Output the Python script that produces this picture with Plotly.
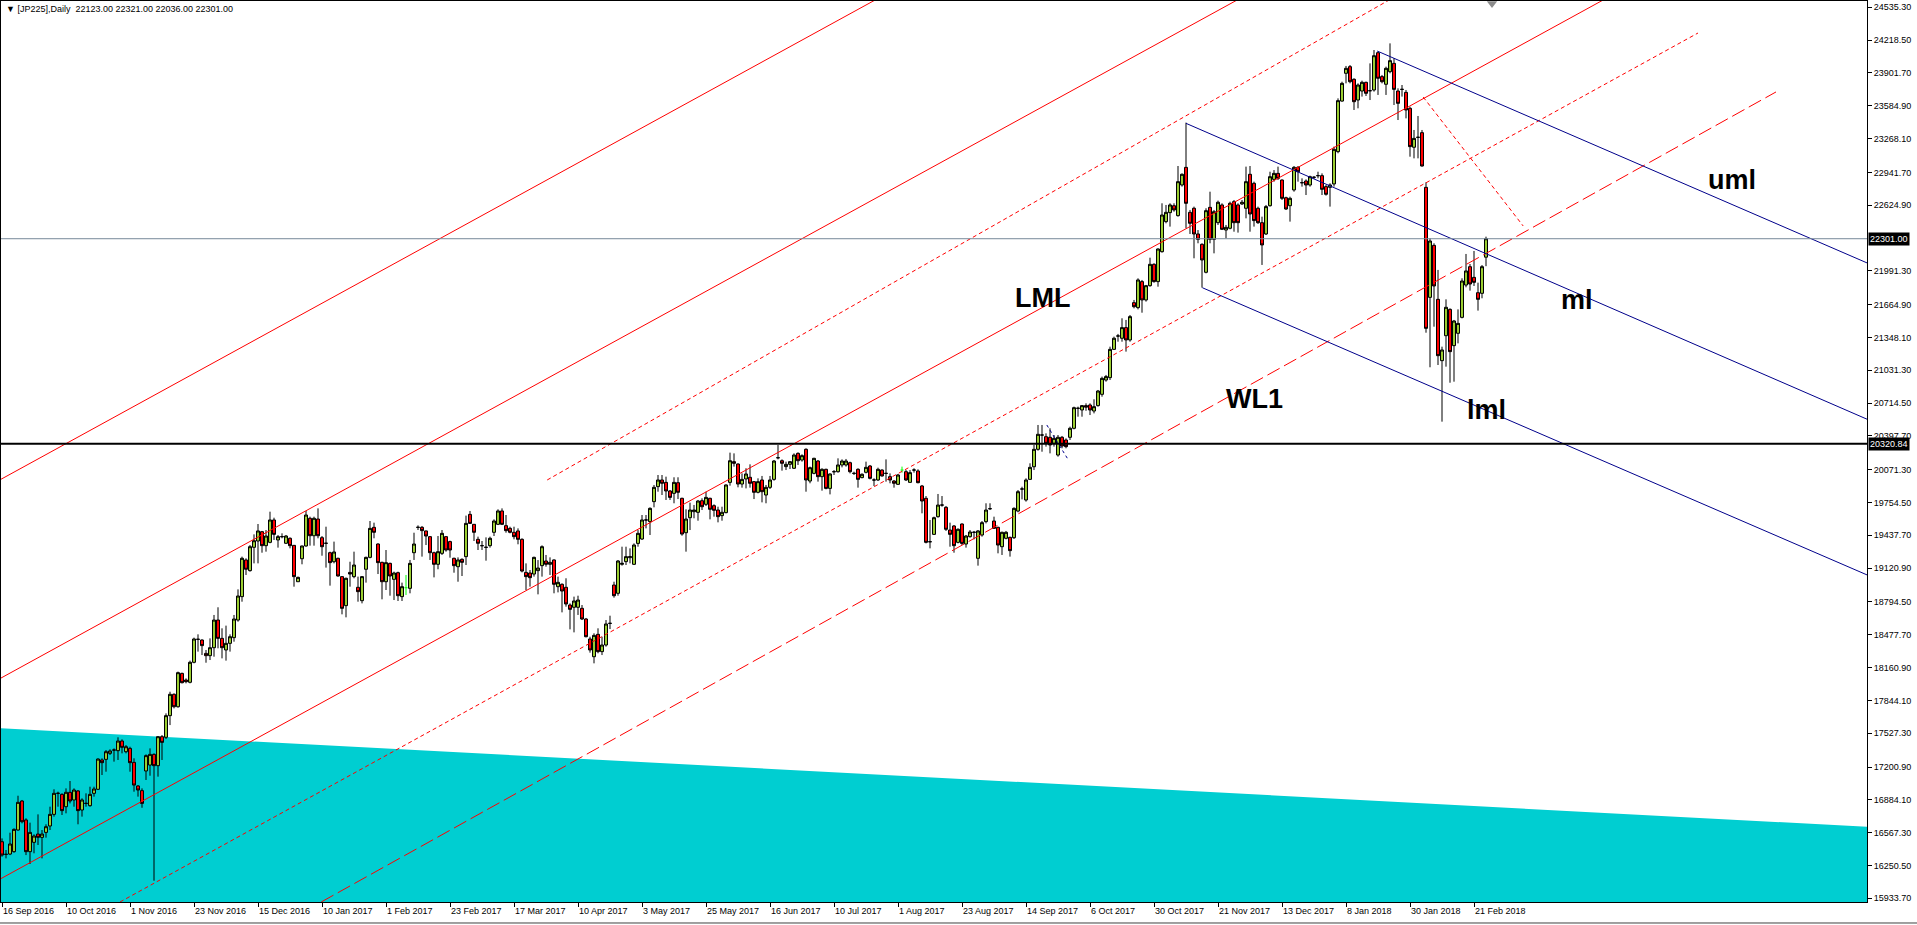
import plotly.graph_objects as go

# JP225 daily bars, 16 Sep 2016 .. 26 Feb 2018 (bar 0 = 16 Sep 2016)
opens = [
    16480, 16358, 16361, 16384, 16593, 16873, 16690, 16384, 16474, 16554,
    16522, 16570, 16632, 16744, 16947, 16937, 16818, 16957, 16883, 16970,
    16786, 16850, 16828, 16947, 16986, 17269, 17275, 17333, 17365, 17359,
    17452, 17349, 17381, 17246, 17018, 16973, 17163, 17220, 17323, 17214,
    17494, 17488, 17697, 17903, 17783, 18105, 18041, 18019, 18212, 18434,
    18427, 18298, 18276, 18353, 18620, 18443, 18331, 18395, 18450, 18620,
    18846, 19200, 19097, 19322, 19383, 19473, 19338, 19370, 19586, 19393,
    19425, 19361, 19409, 19341, 18990, 19212, 19335, 19602, 19434, 19595,
    19415, 19361, 19270, 19183, 19216, 19039, 18759, 19080, 19039, 18936,
    18807, 19110, 19225, 19515, 19354, 19177, 18990, 19167, 19013, 19077,
    18846, 18932, 18926, 19270, 19515, 19515, 19480, 19425, 19270, 19158,
    19264, 19425, 19377, 19216, 19135, 19206, 19232, 19640, 19544, 19399,
    19338, 19322, 19338, 19467, 19544, 19673, 19531, 19505, 19467, 19480,
    19399, 19080, 19074, 19064, 19097, 19145, 19190, 19158, 19200, 18942,
    18965, 18936, 18765, 18743, 18743, 18733, 18630, 18437, 18266, 18482,
    18315, 18379, 18588, 18958, 18878, 19158, 19184, 19222, 19158, 19360,
    19402, 19586, 19570, 19763, 19908, 19972, 19949, 19866, 19843, 19946,
    19795, 19463, 19608, 19666, 19660, 19772, 19737, 19795, 19724, 19682,
    19628, 19657, 19949, 20149, 20126, 19933, 19982, 19998, 19956, 19853,
    19972, 19827, 19901, 19978, 20187, 20158, 20101, 20123, 20085, 20229,
    20165, 20268, 19962, 20036, 20155, 20004, 20075, 19891, 20052, 20052,
    20117, 20117, 20139, 20036, 20075, 19995, 20046, 20107, 19972, 19972,
    20068, 20036, 20004, 19962, 19930, 20068, 20052, 19949, 20068, 20059,
    19914, 19795, 19376, 19447, 19618, 19730, 19708, 19489, 19528, 19370,
    19547, 19354, 19425, 19467, 19216, 19441, 19570, 19695, 19576, 19515,
    19328, 19409, 19418, 19415, 19672, 19885, 19779, 19978, 20100, 20268,
    20406, 20390, 20384, 20326, 20213, 20384, 20358, 20384, 20471, 20664,
    20648, 20690, 20696, 20638, 20690, 20799, 20937, 20960, 21233, 21362,
    21340, 21443, 21324, 21684, 21636, 21887, 21710, 21848, 22054, 21887,
    22176, 22466, 22553, 22620, 22524, 22820, 22990, 22556, 22595, 22347,
    22247, 21977, 22604, 22295, 22456, 22627, 22385, 22402, 22659, 22627,
    22637, 22595, 22923, 22836, 22595, 22456, 22347, 22620, 22874, 22932,
    22868, 22697, 22620, 22772, 22990, 22842, 22858, 22820, 22894, 22910,
    22910, 22804, 22797, 22830, 23142, 23630, 23898, 23962, 23840, 23640,
    23727, 23811, 23730, 23737, 24097, 23866, 23792, 23914, 23994, 23727,
    23743, 23714, 23560, 23184, 23280, 23325, 22797, 21735, 22237, 21716,
    21124, 21365, 21619, 21269, 21388, 21542, 21854, 22031, 21928, 21780,
    21774, 22123,
]
highs = [
    16512, 16400, 16567, 16609, 16924, 16883, 16706, 16664, 16551, 16744,
    16593, 16648, 16818, 16986, 16963, 16947, 16995, 17066, 16995, 16979,
    16899, 16947, 17011, 17011, 17285, 17285, 17365, 17372, 17381, 17488,
    17468, 17413, 17397, 17285, 17027, 16995, 17323, 17381, 17333, 17500,
    17510, 17719, 17928, 17912, 18122, 18112, 18057, 18228, 18450, 18482,
    18434, 18331, 18443, 18669, 18743, 18540, 18566, 18482, 18669, 18916,
    19232, 19216, 19344, 19447, 19547, 19480, 19489, 19666, 19608, 19441,
    19457, 19441, 19418, 19344, 19039, 19338, 19673, 19618, 19618, 19698,
    19431, 19521, 19280, 19377, 19222, 19045, 19029, 19183, 19280, 19039,
    19045, 19232, 19576, 19560, 19361, 19183, 19296, 19174, 19087, 19087,
    18981, 19055, 19200, 19463, 19534, 19528, 19483, 19431, 19280, 19431,
    19489, 19431, 19386, 19222, 19225, 19216, 19628, 19673, 19547, 19425,
    19383, 19418, 19425, 19592, 19689, 19698, 19634, 19521, 19521, 19505,
    19409, 19167, 19103, 19232, 19199, 19341, 19248, 19225, 19206, 19039,
    18974, 19023, 18781, 18846, 18855, 18765, 18640, 18459, 18492, 18540,
    18459, 18620, 18662, 18990, 19199, 19328, 19328, 19312, 19360, 19489,
    19634, 19634, 19708, 19924, 20020, 20020, 20004, 19875, 19998, 19998,
    19801, 19689, 19753, 19731, 19779, 19795, 19859, 19801, 19737, 19714,
    19714, 19930, 20236, 20229, 20133, 20036, 20085, 20123, 19962, 19988,
    20011, 19924, 20011, 20165, 20310, 20171, 20149, 20155, 20229, 20239,
    20220, 20278, 20101, 20187, 20165, 20085, 20081, 20036, 20068, 20181,
    20171, 20175, 20149, 20052, 20085, 20036, 20149, 20117, 19988, 20091,
    20075, 20171, 20036, 19972, 20030, 20101, 20068, 20068, 20085, 20075,
    19924, 19817, 19586, 19618, 19837, 19817, 19721, 19560, 19537, 19505,
    19553, 19441, 19489, 19480, 19489, 19576, 19747, 19747, 19618, 19521,
    19473, 19480, 19425, 19708, 19875, 19907, 19988, 20133, 20310, 20503,
    20503, 20422, 20471, 20406, 20406, 20397, 20374, 20487, 20680, 20680,
    20696, 20712, 20712, 20751, 20841, 20970, 20986, 21259, 21356, 21382,
    21533, 21517, 21565, 21710, 21919, 21903, 21855, 22118, 22064, 22208,
    22643, 22627, 22643, 22643, 23003, 22932, 23422, 22579, 22611, 22385,
    22257, 22595, 22755, 22579, 22669, 22643, 22434, 22659, 22675, 22643,
    22675, 22997, 23003, 22852, 22611, 22514, 22627, 22948, 22964, 22997,
    22874, 22707, 22707, 23003, 23003, 22884, 22874, 22910, 22906, 22948,
    22932, 22820, 22836, 23190, 23656, 23817, 23969, 23978, 23850, 23801,
    23827, 23817, 23994, 24123, 24107, 23882, 23962, 24187, 24043, 23753,
    23785, 23737, 23576, 23351, 23486, 23351, 22846, 22305, 22257, 22000,
    21259, 21716, 21629, 21517, 21619, 21919, 22154, 22057, 22183, 21877,
    22047, 22321,
]
lows = [
    16335, 16319, 16351, 16374, 16587, 16657, 16351, 16265, 16368, 16448,
    16319, 16519, 16593, 16722, 16818, 16738, 16754, 16850, 16818, 16648,
    16722, 16818, 16818, 16915, 16979, 17124, 17156, 17317, 17253, 17269,
    17333, 17333, 17156, 16963, 16915, 16808, 17076, 17117, 16104, 17108,
    17269, 17471, 17606, 17767, 17774, 18009, 18009, 18009, 18202, 18315,
    18282, 18208, 18234, 18266, 18347, 18250, 18228, 18315, 18411, 18604,
    18797, 19055, 19087, 19167, 19167, 19270, 19280, 19361, 19393, 19319,
    19409, 19354, 19312, 18942, 18990, 19158, 19328, 19338, 19338, 19409,
    19241, 19126, 18952, 19167, 19039, 18675, 18646, 18942, 19023, 18797,
    18781, 18981, 19216, 19409, 19064, 18820, 18910, 18855, 18813, 18804,
    18804, 18862, 18878, 19200, 19489, 19232, 19344, 19200, 19032, 19110,
    19248, 19280, 19222, 19077, 18990, 19045, 19151, 19547, 19383, 19296,
    19296, 19193, 19319, 19431, 19537, 19537, 19463, 19457, 19399, 19351,
    19080, 18910, 18942, 19039, 18868, 19039, 19135, 19055, 18878, 18887,
    18694, 18749, 18530, 18501, 18669, 18620, 18453, 18305, 18202, 18299,
    18282, 18363, 18533, 18836, 18855, 19145, 19151, 19167, 19151, 19328,
    19393, 19505, 19441, 19708, 19859, 19827, 19779, 19779, 19747, 19788,
    19434, 19280, 19489, 19602, 19579, 19682, 19721, 19592, 19618, 19563,
    19579, 19650, 19917, 20101, 19901, 19898, 19891, 19898, 19788, 19843,
    19756, 19747, 19885, 19965, 20171, 20062, 20068, 20078, 20078, 20117,
    20149, 19859, 19940, 20027, 19956, 19869, 19882, 19833, 20020, 20043,
    20094, 20101, 20036, 20020, 19898, 19988, 20036, 19978, 19914, 19962,
    20004, 19956, 19940, 19898, 19924, 20043, 19962, 19946, 20043, 19940,
    19650, 19360, 19312, 19441, 19608, 19714, 19480, 19328, 19270, 19360,
    19344, 19319, 19415, 19399, 19145, 19425, 19553, 19682, 19499, 19264,
    19248, 19399, 19232, 19402, 19660, 19785, 19763, 19972, 20068, 20255,
    20245, 20294, 20229, 20294, 20197, 20278, 20278, 20358, 20461, 20583,
    20583, 20640, 20599, 20615, 20680, 20776, 20921, 20937, 21227, 21307,
    21307, 21211, 21307, 21629, 21619, 21587, 21694, 21838, 21877, 21838,
    22167, 22450, 22418, 22562, 22514, 22804, 22402, 22347, 22112, 22257,
    21829, 21967, 22257, 22160, 22434, 22385, 22305, 22392, 22369, 22360,
    22627, 22498, 22369, 22418, 22444, 22048, 22337, 22611, 22852, 22868,
    22675, 22579, 22466, 22755, 22852, 22804, 22723, 22804, 22878, 22884,
    22723, 22717, 22611, 22804, 23126, 23624, 23801, 23801, 23544, 23560,
    23673, 23679, 23640, 23721, 23689, 23801, 23689, 23898, 23592, 23447,
    23673, 23463, 23093, 23077, 23077, 22997, 21394, 21060, 21452, 21082,
    20535, 21066, 20911, 20921, 21291, 21532, 21832, 21800, 21845, 21607,
    21726, 22036,
]
closes = [
    16351, 16358, 16458, 16599, 16860, 16673, 16384, 16570, 16535, 16522,
    16554, 16625, 16744, 16947, 16947, 16780, 16957, 16873, 16979, 16780,
    16883, 16850, 16937, 16989, 17278, 17243, 17349, 17356, 17365, 17452,
    17391, 17397, 17243, 17027, 16979, 16850, 17311, 17323, 17214, 17494,
    17439, 17697, 17903, 17783, 18112, 18015, 18025, 18212, 18437, 18434,
    18373, 18276, 18353, 18620, 18443, 18353, 18395, 18459, 18630, 18852,
    19216, 19110, 19328, 19386, 19480, 19338, 19431, 19586, 19447, 19425,
    19425, 19431, 19338, 19039, 19032, 19335, 19634, 19434, 19602, 19434,
    19328, 19361, 19174, 19277, 19045, 18733, 19023, 19064, 19151, 18894,
    19039, 19225, 19505, 19467, 19174, 18990, 19174, 19045, 19074, 18855,
    18942, 18932, 19167, 19354, 19515, 19483, 19431, 19270, 19158, 19280,
    19457, 19296, 19296, 19145, 19200, 19177, 19553, 19553, 19467, 19361,
    19338, 19322, 19409, 19576, 19673, 19544, 19483, 19467, 19425, 19399,
    19093, 19039, 19029, 19225, 19122, 19328, 19158, 19177, 18965, 18984,
    18900, 18775, 18723, 18804, 18813, 18630, 18459, 18331, 18472, 18315,
    18379, 18582, 18588, 18855, 19190, 19167, 19232, 19232, 19344, 19457,
    19586, 19586, 19698, 19901, 19972, 19940, 19866, 19804, 19949, 19853,
    19450, 19595, 19682, 19682, 19769, 19714, 19804, 19689, 19679, 19618,
    19660, 19924, 20158, 20133, 19933, 19978, 20030, 19940, 19853, 19956,
    19859, 19901, 19972, 20155, 20187, 20133, 20123, 20149, 20213, 20158,
    20207, 19972, 20091, 20181, 20004, 20075, 19891, 20030, 20052, 20117,
    20155, 20155, 20052, 20036, 19978, 20027, 20094, 19988, 19972, 20075,
    20011, 20036, 19972, 19940, 20020, 20068, 19972, 20043, 20068, 19946,
    19769, 19370, 19376, 19608, 19730, 19730, 19496, 19447, 19338, 19496,
    19360, 19431, 19470, 19467, 19480, 19560, 19682, 19695, 19505, 19344,
    19467, 19467, 19290, 19698, 19859, 19885, 19972, 20094, 20268, 20413,
    20406, 20326, 20310, 20374, 20384, 20300, 20294, 20471, 20670, 20664,
    20690, 20675, 20648, 20680, 20831, 20953, 20970, 21233, 21340, 21362,
    21443, 21324, 21549, 21645, 21903, 21710, 21848, 22054, 21887, 22202,
    22530, 22556, 22627, 22579, 22852, 22923, 22643, 22450, 22347, 22295,
    22096, 22572, 22295, 22562, 22653, 22392, 22411, 22643, 22456, 22456,
    22653, 22852, 22540, 22476, 22456, 22241, 22611, 22900, 22932, 22884,
    22691, 22588, 22691, 22990, 22948, 22842, 22820, 22900, 22894, 22910,
    22778, 22730, 22820, 23164, 23634, 23801, 23946, 23817, 23624, 23785,
    23811, 23705, 23730, 24068, 23850, 23817, 23946, 24020, 23743, 23608,
    23743, 23544, 23190, 23270, 23280, 23003, 21436, 22279, 21845, 21172,
    21227, 21639, 21211, 21507, 21484, 21893, 21990, 21864, 21880, 21716,
    22031, 22301,
]
lime_dojis = [101, 225]          # open == close bars drawn in lime

date_labels = [
    "16 Sep 2016", "10 Oct 2016", "1 Nov 2016", "23 Nov 2016", "15 Dec 2016",
    "10 Jan 2017", "1 Feb 2017", "23 Feb 2017", "17 Mar 2017", "10 Apr 2017",
    "3 May 2017", "25 May 2017", "16 Jun 2017", "10 Jul 2017", "1 Aug 2017",
    "23 Aug 2017", "14 Sep 2017", "6 Oct 2017", "30 Oct 2017", "21 Nov 2017",
    "13 Dec 2017", "8 Jan 2018", "30 Jan 2018", "21 Feb 2018",
]
bars_per_label = 16

price_labels = [
    24535.30, 24218.50, 23901.70, 23584.90, 23268.10, 22941.70, 22624.90,
    21991.30, 21664.90, 21348.10, 21031.30, 20714.50, 20397.70, 20071.30,
    19754.50, 19437.70, 19120.90, 18794.50, 18477.70, 18160.90, 17844.10,
    17527.30, 17200.90, 16884.10, 16567.30, 16250.50, 15933.70,
]
bid_price = 22301.00
level_line = 20320.84

# drawn objects as (bar, price) anchor pairs
red_solid = [
    ((-0.3, 19978), (218.3, 24606)),
    ((-0.3, 18059), (308.8, 24606)),
    ((-0.3, 16123), (400.3, 24606)),
]
red_dotted = [
    ((136.3, 19972), (346.8, 24606)),
    ((29.5, 15898), (424.0, 24287)),
    ((355.3, 23669), (380.3, 22424)),
]
red_dashed = [((79.8, 15898), (443.5, 23718))]
blue_fork = [
    ((343.8, 24113), (466.3, 22067)),   # uml
    ((296.0, 23415), (466.3, 20558)),   # ml
    ((300.1, 21828), (466.3, 19055)),   # lml
]
small_fork = [((261.2, 20503), (266.6, 20165))]
cyan_zone = ((-0.3, 17576), (466.3, 16624))

text_labels = [
    ("LML", 260.1, 21729),
    ("WL1", 313.0, 20757),
    ("lml", 371.1, 20645),
    ("ml", 393.7, 21710),
    ("uml", 432.5, 22871),
]

x_range = [-0.25, 466.25]
y_range = [15898, 24596]
body_half = 0.375

bars = list(range(len(closes)))
assert len(opens) == len(highs) == len(lows) == len(closes)

def skip_lime(values):
    return [None if i in lime_dojis else v for i, v in enumerate(values)]

fig = go.Figure()

# cyan zone, drawn as a shape below all traces
(zx0, zy0), (zx1, zy1) = cyan_zone
floor = y_range[0] - 500
fig.add_shape(type="path", xref="x", yref="y", layer="below",
              path=f"M {zx0},{zy0} L {zx1},{zy1} L {zx1},{floor} L {zx0},{floor} Z",
              fillcolor="#00CED1", line=dict(width=0))

fig.add_trace(go.Candlestick(
    x=bars, open=skip_lime(opens), high=skip_lime(highs),
    low=skip_lime(lows), close=skip_lime(closes),
    increasing=dict(fillcolor="#9ACD32", line=dict(color="black", width=1)),
    decreasing=dict(fillcolor="#FF0000", line=dict(color="black", width=1)),
    whiskerwidth=0, hoverinfo="skip"))

# lime crosses
lx, ly = [], []
for b in lime_dojis:
    lx += [b, b, None, b - body_half, b + body_half, None]
    ly += [lows[b], highs[b], None, closes[b], closes[b], None]
fig.add_trace(go.Scatter(x=lx, y=ly, mode="lines",
                         line=dict(color="#00FF00", width=1), hoverinfo="skip"))

def add_segments(segs, color, dash="solid", width=1):
    xs, ys = [], []
    for (x0, y0), (x1, y1) in segs:
        xs += [x0, x1, None]
        ys += [y0, y1, None]
    fig.add_trace(go.Scatter(x=xs, y=ys, mode="lines",
                             line=dict(color=color, width=width, dash=dash),
                             hoverinfo="skip"))

add_segments(red_solid, "#FF0000")
add_segments(red_dotted, "#FF0000", "4px,3px")
add_segments(red_dashed, "#FF0000", "14px,5px")
add_segments(blue_fork, "#00008B")
add_segments(small_fork, "#00008B", "3px,3px")

# chart shift marker
fig.add_trace(go.Scatter(x=[372.5], y=[24572], mode="markers",
                         marker=dict(symbol="triangle-down", size=9, color="#8C8C8C"),
                         hoverinfo="skip"))

fig.add_hline(y=bid_price, line=dict(color="#778899", width=1))
fig.add_hline(y=level_line, line=dict(color="black", width=2))

axis_font = dict(family="Liberation Sans", size=9, color="black")

for txt, bx, py in text_labels:
    fig.add_annotation(x=bx, y=py, text=txt, showarrow=False,
                       xanchor="center", yanchor="middle",
                       font=dict(family="Liberation Sans", size=27, color="black", weight="bold"))

for val in (bid_price, level_line):
    fig.add_annotation(xref="paper", x=1, y=val, yref="y", text=f"{val:.2f}",
                       showarrow=False, xanchor="left", xshift=1, yanchor="middle",
                       bgcolor="black", borderpad=1,
                       font=dict(family="Liberation Sans", size=9, color="white"))

header = "\u25BC [JP225],Daily\u00a0 {:.2f} {:.2f} {:.2f} {:.2f}".format(
    opens[-1], highs[-1], lows[-1], closes[-1])
fig.add_annotation(xref="paper", yref="paper", x=0, y=1, text=header,
                   showarrow=False, xanchor="left", yanchor="top",
                   xshift=3, yshift=-1, font=axis_font)

# window bottom border
fig.add_shape(type="line", xref="paper", yref="paper", x0=-0.001, x1=1.03,
              y0=-0.0233, y1=-0.0233, line=dict(color="#404040", width=1))

fig.update_layout(
    width=1917, height=925,
    margin=dict(l=1, r=50, t=1, b=23, pad=0),
    paper_bgcolor="white", plot_bgcolor="white",
    showlegend=False, boxgap=0.25, boxgroupgap=0,
    xaxis=dict(range=x_range, tickvals=[k * bars_per_label for k in range(len(date_labels))],
               ticktext=date_labels, ticks="outside", ticklen=4, tickcolor="black",
               tickangle=0, ticklabelposition="outside right", tickfont=axis_font,
               showgrid=False, zeroline=False, showline=True, linecolor="black",
               mirror=True, rangeslider=dict(visible=False)),
    yaxis=dict(range=y_range, side="right", tickvals=price_labels,
               ticktext=[f"{v:.2f}" for v in price_labels], ticks="outside",
               ticklen=4, tickcolor="black", tickfont=axis_font,
               showgrid=False, zeroline=False, showline=True, linecolor="black",
               mirror=True),
)

# put the figure flush with the window corner (no default page margin)
fig.write_html("out.html", config={"displayModeBar": False},
               post_script="document.body.style.margin='0';"
                           "document.body.style.overflow='hidden';")
